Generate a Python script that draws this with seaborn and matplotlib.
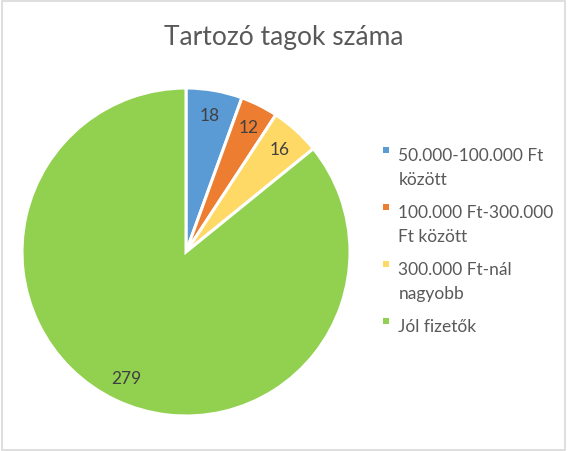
import matplotlib
matplotlib.use("Agg")
import matplotlib.pyplot as plt
import matplotlib.patches as mpatches
from matplotlib.legend_handler import HandlerPatch
import seaborn as sns

categories = ["50.000-100.000 Ft\nközött", "100.000 Ft-300.000\nFt között",
              "300.000 Ft-nál\nnagyobb", "Jól fizetők\n"]
values = [18, 12, 16, 279]
colors = ["#5B9BD5", "#ED7D31", "#FFD966", "#92D050"]
title = "Tartozó tagok száma"

sns.set_theme(style="white")
plt.rcParams['font.family'] = ['Lato', 'DejaVu Sans']

W, H = 568, 452
fig = plt.figure(figsize=(W / 100, H / 100), dpi=100)
fig.patch.set_facecolor("white")

# pie area: center (186,253) px, radius 164 px
cx, cy, r = 186, 253, 164
ax = fig.add_axes([(cx - r) / W, (H - cy - r) / H, 2 * r / W, 2 * r / H])

wedges, texts = ax.pie(values, colors=colors, startangle=90, counterclock=False,
                       labels=[str(v) for v in values], labeldistance=0.85,
                       wedgeprops=dict(edgecolor="white", linewidth=2.2),
                       textprops=dict(color="#404040", fontsize=12.5))
for t in texts:
    t.set_ha("center")
    t.set_va("center")
ax.set_xlim(-1, 1)
ax.set_ylim(-1, 1)
ax.set_aspect("equal")
ax.axis("off")

fig.text(0.5, 1 - 38 / H, title, ha="center", va="center",
         fontsize=19, color="#595959")


# small square marker that sits next to the first line of the label
def square_first_line(legend, orig_handle, xdescent, ydescent, width, height, fontsize):
    nlines = orig_handle.get_label().count("\n") + 1
    shift = (nlines - 1) * 12.5
    s = 4.5
    return mpatches.Rectangle((-xdescent + (width - s) / 2, -ydescent + (height - s) / 2 + shift),
                              s, s)


handles = [mpatches.Patch(facecolor=c, edgecolor="none", label=lab)
           for c, lab in zip(colors, categories)]
leg = fig.legend(handles=handles, loc="upper left",
                 bbox_to_anchor=(381 / W, 1 - 148 / H), frameon=False,
                 fontsize=12.5, labelcolor="#595959", handlelength=0.55,
                 handleheight=0.55, handletextpad=0.45, labelspacing=0.95,
                 borderaxespad=0, borderpad=0,
                 handler_map={mpatches.Patch: HandlerPatch(patch_func=square_first_line)})
for t in leg.get_texts():
    t.set_linespacing(1.65)

# outer chart border
fig.add_artist(mpatches.Rectangle((1.5 / W, 1.5 / H), (W - 4.5) / W, (H - 3.5) / H,
                                  transform=fig.transFigure, fill=False,
                                  edgecolor="#D9D9D9", linewidth=1.2))

fig.savefig("out.png", dpi=100, facecolor="white")
